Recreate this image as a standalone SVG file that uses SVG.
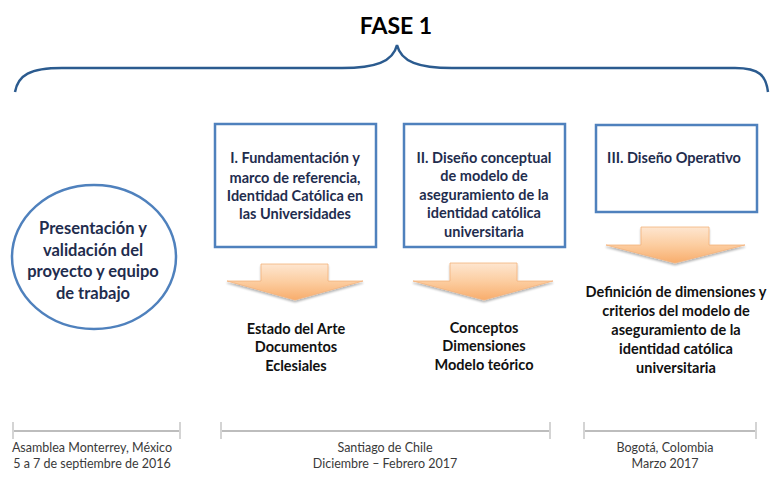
<svg xmlns="http://www.w3.org/2000/svg" width="770" height="495" viewBox="0 0 770 495">
<defs>
<linearGradient id="og" x1="0" y1="0" x2="0" y2="1">
<stop offset="0" stop-color="#fee6d0"/>
<stop offset="0.5" stop-color="#fccda0"/>
<stop offset="1" stop-color="#f8ad6c"/>
</linearGradient>
<filter id="sh" x="-10%" y="-10%" width="120%" height="130%">
<feGaussianBlur in="SourceAlpha" stdDeviation="1.2"/>
<feOffset dx="0" dy="1.5"/>
<feComponentTransfer><feFuncA type="linear" slope="0.3"/></feComponentTransfer>
<feMerge><feMergeNode/><feMergeNode in="SourceGraphic"/></feMerge>
</filter>
<style>
.t{font-family:Lato,"Liberation Sans",sans-serif;font-weight:bold;text-anchor:middle}
.nv{fill:#1f2d4e;font-size:14.5px}
.bk{fill:#111;font-size:14.5px}
.lb{font-family:Lato,"Liberation Sans",sans-serif;font-size:12.5px;fill:#3a3a3a;text-anchor:middle}
.box{fill:#fff;stroke:#4f81bd;stroke-width:2.5}
.arr{fill:url(#og);stroke:#f4b27c;stroke-width:0.8}
.tl{stroke:#bdbdbd;stroke-width:2.2;fill:none}
.tk{stroke:#d4d4d4;stroke-width:2;fill:none}
</style>
</defs>
<rect width="770" height="495" fill="#fff"/>
<g id="title">
<text x="396" y="34" class="t" style="font-size:23px;fill:#000">FASE 1</text>
<path d="M15,92 C18,75 30,68 62,68 L342,68 C375,68 393,62 397,45 C401,62 419,68 452,68 L735,68 C760,68 766,76 768,92" fill="none" stroke="#2b5b8f" stroke-width="2.5"/>
</g>
<g id="connectors">
<path class="arr" filter="url(#sh)" d="M261,264 L328,264 L328,281 L363,281 L295,300 L227,281 L261,281 Z"/>
<path class="arr" filter="url(#sh)" d="M450,263 L517,263 L517,281 L553,281 L484,300 L413,281 L450,281 Z"/>
<path class="arr" filter="url(#sh)" d="M641,227 L709,227 L709,245 L745,245 L675,263 L606,245 L641,245 Z"/>
</g>
<g id="start">
<ellipse cx="94" cy="257" rx="82" ry="72" fill="#fff" stroke="#4f81bd" stroke-width="2.5"/>
<text class="t nv" style="font-size:16.5px"><tspan x="93" y="234">Presentación y</tspan><tspan x="93" y="256">validación del</tspan><tspan x="93" y="277">proyecto y equipo</tspan><tspan x="93" y="299">de trabajo</tspan></text>
</g>
<g id="box1">
<rect class="box" x="215" y="124" width="161" height="123"/>
<text class="t nv"><tspan x="295" y="163">I. Fundamentación y</tspan><tspan x="295" y="183">marco de referencia,</tspan><tspan x="295" y="201">Identidad Católica en</tspan><tspan x="295" y="219">las Universidades</tspan></text>
</g>
<g id="box2">
<rect class="box" x="404" y="124" width="161" height="123"/>
<text class="t nv"><tspan x="484" y="163">II. Diseño conceptual</tspan><tspan x="484" y="181">de modelo de</tspan><tspan x="484" y="200">aseguramiento de la</tspan><tspan x="484" y="218">identidad católica</tspan><tspan x="484" y="237">universitaria</tspan></text>
</g>
<g id="box3">
<rect class="box" x="596" y="125" width="161" height="87"/>
<text class="t nv"><tspan x="674" y="163">III. Diseño Operativo</tspan></text>
</g>
<g id="out1">
<text class="t bk"><tspan x="296" y="334">Estado del Arte</tspan><tspan x="296" y="352">Documentos</tspan><tspan x="296" y="371">Eclesiales</tspan></text>
</g>
<g id="out2">
<text class="t bk"><tspan x="484" y="333">Conceptos</tspan><tspan x="484" y="351">Dimensiones</tspan><tspan x="484" y="370">Modelo teórico</tspan></text>
</g>
<g id="out3">
<text class="t bk"><tspan x="676" y="297">Definición de dimensiones y</tspan><tspan x="676" y="316">criterios del modelo de</tspan><tspan x="676" y="335">aseguramiento de la</tspan><tspan x="676" y="354">identidad católica</tspan><tspan x="676" y="373">universitaria</tspan></text>
</g>
<g id="timeline1">
<line class="tl" x1="13" y1="431" x2="180" y2="431"/>
<line class="tk" x1="13" y1="422" x2="13" y2="439"/>
<line class="tk" x1="180" y1="422" x2="180" y2="439"/>
<text class="lb"><tspan x="92" y="452">Asamblea Monterrey, México</tspan><tspan x="92" y="468">5 a 7 de septiembre de 2016</tspan></text>
</g>
<g id="timeline2">
<line class="tl" x1="221" y1="431" x2="550" y2="431"/>
<line class="tk" x1="221" y1="422" x2="221" y2="439"/>
<line class="tk" x1="550" y1="422" x2="550" y2="439"/>
<text class="lb"><tspan x="385" y="452">Santiago de Chile</tspan><tspan x="385" y="468">Diciembre – Febrero 2017</tspan></text>
</g>
<g id="timeline3">
<line class="tl" x1="584" y1="431" x2="756" y2="431"/>
<line class="tk" x1="584" y1="422" x2="584" y2="439"/>
<line class="tk" x1="756" y1="422" x2="756" y2="439"/>
<text class="lb"><tspan x="665" y="452">Bogotá, Colombia</tspan><tspan x="665" y="468">Marzo 2017</tspan></text>
</g>
</svg>
